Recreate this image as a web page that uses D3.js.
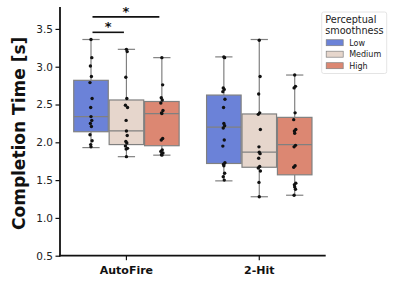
<!DOCTYPE html>
<html><head><meta charset="utf-8">
<script src="https://cdn.jsdelivr.net/npm/d3@7"></script>
<style>body{margin:0;background:#fff;} svg{display:block;font-family:"DejaVu Sans",sans-serif;}</style>
</head><body><svg id="c" width="405" height="284"></svg>
<script>
const categories = ["AutoFire", "2-Hit"];
const hues = ["Low", "Medium", "High"];
const colors = ["#6b82d8", "#e6d6cc", "#dc8772"];
const yTicks = [0.5, 1.0, 1.5, 2.0, 2.5, 3.0, 3.5];

// box stats: [whiskerLow, q1, median, q3, whiskerHigh]
const statsAutoFire = [
  [1.93, 2.14, 2.34, 2.82, 3.36],
  [1.81, 1.97, 2.15, 2.56, 3.23],
  [1.83, 1.955, 2.38, 2.54, 3.12]
];
const stats2Hit = [
  [1.49, 1.72, 2.20, 2.625, 3.13],
  [1.28, 1.67, 1.87, 2.375, 3.36],
  [1.30, 1.57, 1.97, 2.33, 2.89]
];
// raw points
const ptsAutoFire = [
  [3.36, 3.12, 3.01, 2.87, 2.79, 2.58, 2.46, 2.34, 2.29, 2.25, 2.21, 2.10, 2.02, 1.97, 1.94],
  [3.23, 3.20, 2.86, 2.58, 2.49, 2.46, 2.29, 2.15, 2.09, 2.01, 1.99, 1.95, 1.92, 1.91, 1.81],
  [3.12, 2.76, 2.59, 2.56, 2.52, 2.42, 2.39, 2.38, 2.05, 2.03, 1.90, 1.88, 1.86, 1.84, 1.83]
];
const pts2Hit = [
  [3.13, 3.12, 2.72, 2.70, 2.67, 2.57, 2.46, 2.25, 2.22, 2.19, 2.03, 1.95, 1.73, 1.71, 1.69, 1.59, 1.545, 1.50],
  [3.35, 2.87, 2.64, 2.39, 2.37, 2.17, 1.94, 1.87, 1.85, 1.79, 1.68, 1.66, 1.62, 1.47, 1.28],
  [2.89, 2.74, 2.72, 2.39, 2.30, 2.17, 2.15, 2.12, 1.96, 1.94, 1.69, 1.67, 1.46, 1.44, 1.41, 1.38, 1.30]
];
// significance brackets: [hueA, hueB] and their heights
const sigHues = [["Low", "Medium"], ["Low", "High"]];
const sigLevels = [3.455, 3.66];

const stats = [statsAutoFire, stats2Hit];
const pts = [ptsAutoFire, pts2Hit];

const svg = d3.select("#c");
const mLeft = 60, mRight = 325.7, mTop = 7, mBottom = 255.7;
const y = d3.scaleLinear().domain([0.5, 3.79]).range([mBottom, mTop]);
const x = d3.scaleBand().domain(categories).range([mLeft, mRight]).padding(0);
const bw = x.bandwidth();
const xh = d3.scaleBand().domain(hues).range([-0.4 * bw, 0.4 * bw]).padding(0);
const boxW = xh.bandwidth() * 0.975;
const hueCenter = (c, h) => x(c) + bw / 2 + xh(h) + xh.bandwidth() / 2;

const edge = "#808080";
categories.forEach((c, ci) => {
  hues.forEach((h, hi) => {
    const s = stats[ci][hi];
    const cx = hueCenter(c, h);
    const g = svg.append("g");
    g.append("line").attr("x1", cx).attr("x2", cx).attr("y1", y(s[3])).attr("y2", y(s[4])).attr("stroke", edge).attr("stroke-width", 1.2);
    g.append("line").attr("x1", cx).attr("x2", cx).attr("y1", y(s[1])).attr("y2", y(s[0])).attr("stroke", edge).attr("stroke-width", 1.2);
    [s[0], s[4]].forEach(v => g.append("line").attr("x1", cx - boxW / 4).attr("x2", cx + boxW / 4)
      .attr("y1", y(v)).attr("y2", y(v)).attr("stroke", edge).attr("stroke-width", 1.2));
    g.append("rect").attr("x", cx - boxW / 2).attr("y", y(s[3])).attr("width", boxW).attr("height", y(s[1]) - y(s[3]))
      .attr("fill", colors[hi]).attr("stroke", edge).attr("stroke-width", 1.2);
    g.append("line").attr("x1", cx - boxW / 2).attr("x2", cx + boxW / 2).attr("y1", y(s[2])).attr("y2", y(s[2]))
      .attr("stroke", edge).attr("stroke-width", 1.2);
    pts[ci][hi].forEach((v, i) => {
      const off = [0, 0.8, -0.6, 0.4, -1, 1.1, -0.3][i % 7];
      g.append("circle").attr("cx", cx + off).attr("cy", y(v)).attr("r", 1.7).attr("fill", "#111");
    });
  });
});

sigHues.forEach((p, i) => {
  const x1 = hueCenter("AutoFire", p[0]) + 1.5;
  const x2 = hueCenter("AutoFire", p[1]) - 2.5;
  const yy = y(sigLevels[i]);
  svg.append("line").attr("x1", x1).attr("x2", x2).attr("y1", yy).attr("y2", yy).attr("stroke", "#111").attr("stroke-width", 1.6);
  svg.append("text").attr("x", (x1 + x2) / 2).attr("y", yy - 1).attr("text-anchor", "middle")
    .attr("font-size", 13).attr("font-weight", "bold").attr("fill", "#111").text("*");
});

const yAxis = d3.axisLeft(y).tickValues(yTicks).tickFormat(d3.format(".1f")).tickSize(4.5).tickPadding(2.5);
const gy = svg.append("g").attr("transform", `translate(${mLeft},0)`).call(yAxis);
gy.select(".domain").remove();
gy.selectAll(".tick line").attr("stroke", "#111").attr("stroke-width", 1.2);
gy.selectAll("text").attr("font-size", 10.5).attr("fill", "#222").attr("font-family", "DejaVu Sans");
svg.append("line").attr("x1", mLeft).attr("x2", mLeft).attr("y1", mTop).attr("y2", mBottom + 0.9).attr("stroke", "#111").attr("stroke-width", 1.8);

const xAxis = d3.axisBottom(x).tickSize(4.5).tickPadding(6);
const gx = svg.append("g").attr("transform", `translate(0,${mBottom})`).call(xAxis);
gx.select(".domain").remove();
gx.selectAll(".tick line").attr("stroke", "#111").attr("stroke-width", 1.2);
gx.selectAll("text").attr("font-size", 11).attr("font-weight", "bold").attr("fill", "#111").attr("font-family", "DejaVu Sans");
svg.append("line").attr("x1", mLeft - 0.9).attr("x2", mRight).attr("y1", mBottom).attr("y2", mBottom).attr("stroke", "#111").attr("stroke-width", 1.8);

svg.append("text").attr("transform", `translate(25,${(mTop + mBottom) / 2 + 2}) rotate(-90)`).attr("text-anchor", "middle")
  .attr("font-size", 17).attr("font-weight", "bold").attr("fill", "#111").text("Completion Time [s]");

const lg = svg.append("g").attr("transform", "translate(321.7,12)");
lg.append("rect").attr("width", 65).attr("height", 61.5).attr("rx", 2).attr("fill", "#fff").attr("stroke", "#ddd").attr("stroke-width", 0.8);
lg.append("text").attr("x", 3.5).attr("y", 10.5).attr("font-size", 9.7).attr("fill", "#222").text("Perceptual");
lg.append("text").attr("x", 3.5).attr("y", 21.5).attr("font-size", 9.7).attr("fill", "#222").text("smoothness");
hues.forEach((h, i) => {
  const yy = 30.7 + i * 11.5;
  lg.append("rect").attr("x", 4.5).attr("y", yy - 3).attr("width", 17).attr("height", 6).attr("fill", colors[i]).attr("stroke", edge).attr("stroke-width", 0.7);
  lg.append("text").attr("x", 27.5).attr("y", yy + 3).attr("font-size", 8).attr("fill", "#222").text(h);
});
</script></body></html>
